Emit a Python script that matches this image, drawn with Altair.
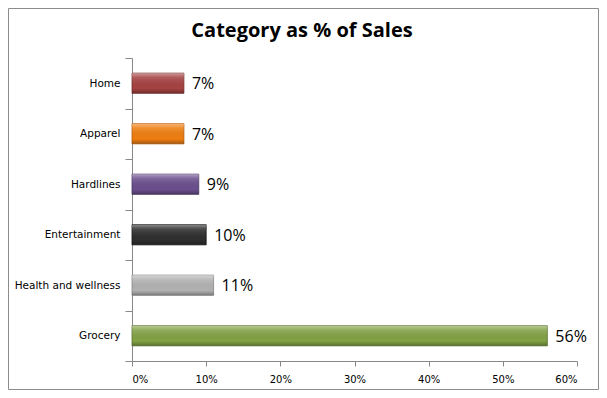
import altair as alt
import pandas as pd

categories = ["Home", "Apparel", "Hardlines", "Entertainment", "Health and wellness", "Grocery"]
shares = [0.07, 0.07, 0.09, 0.10, 0.11, 0.56]
labels = ["7%", "7%", "9%", "10%", "11%", "56%"]
bar_colors = ["#A64242", "#F07E10", "#6B4F8E", "#2F2F2F", "#B2B2B2", "#82A244"]
edge_colors = ["#7A2E2E", "#B85C08", "#4A3666", "#111111", "#858585", "#5C7530"]
x_ticks = [0, 0.1, 0.2, 0.3, 0.4, 0.5, 0.6]
title_text = "Category as % of Sales"

df = pd.DataFrame({"category": categories, "share": shares, "label": labels})

W, H = 445, 303
PAD = {"left": 124, "top": 50, "right": 22, "bottom": 29}

y_enc = alt.Y(
    "category:N",
    sort=categories,
    title=None,
    scale=alt.Scale(paddingInner=0, paddingOuter=0),
    axis=alt.Axis(
        tickBand="extent",
        tickSize=7,
        tickColor="#888888",
        domainColor="#888888",
        labelFont="DejaVu Sans",
        labelFontSize=10.5,
        labelColor="#000000",
        labelPadding=5,
        labelLimit=200,
        grid=False,
    ),
)
x_enc = alt.X(
    "share:Q",
    title=None,
    scale=alt.Scale(domain=[0, 0.6], nice=False),
    axis=alt.Axis(
        values=x_ticks,
        format=".0%",
        tickSize=5,
        tickColor="#888888",
        domainColor="#888888",
        labelFont="DejaVu Sans",
        labelFontSize=10,
        labelColor="#000000",
        labelPadding=8,
        grid=False,
    ),
)

base = alt.Chart(df)
band = alt.RelativeBandSize(0.4)

bars = base.mark_bar(strokeWidth=0.8, height=band).encode(
    y=y_enc,
    x=x_enc,
    color=alt.Color("category:N", sort=categories,
                    scale=alt.Scale(domain=categories, range=bar_colors), legend=None),
    stroke=alt.Stroke("category:N", sort=categories,
                      scale=alt.Scale(domain=categories, range=edge_colors),
                      legend=None),
)

shade = base.mark_bar(
    height=band,
    color={
        "gradient": "linear",
        "x1": 0, "y1": 0, "x2": 0, "y2": 1,
        "stops": [
            {"offset": 0.0, "color": "rgba(255,255,255,0.45)"},
            {"offset": 0.2, "color": "rgba(255,255,255,0.15)"},
            {"offset": 0.75, "color": "rgba(0,0,0,0.0)"},
            {"offset": 1.0, "color": "rgba(0,0,0,0.3)"},
        ],
    },
).encode(y=alt.Y("category:N", sort=categories), x="share:Q")

text = base.mark_text(
    align="left", baseline="middle", dx=8, dy=1,
    font="Open Sans", fontSize=16, color="#000000",
).encode(y=alt.Y("category:N", sort=categories), x="share:Q", text="label:N")

frame = alt.Chart(pd.DataFrame({"k": [0]})).mark_rect(
    fill=None, stroke="#8C8C8C", strokeWidth=1
).encode(
    x=alt.value(-PAD["left"] + 0.5),
    x2=alt.value(W + PAD["right"] - 0.5),
    y=alt.value(-PAD["top"] + 0.5),
    y2=alt.value(H + PAD["bottom"] - 0.5),
)

title = alt.Chart(pd.DataFrame({"t": [title_text]})).mark_text(
    font="Open Sans", fontSize=20, fontWeight="bold", color="#000000",
    align="center", baseline="alphabetic",
).encode(
    x=alt.value(170),
    y=alt.value(-21),
    text="t:N",
)

chart = alt.layer(bars, shade, text, frame, title).properties(
    width=W,
    height=H,
    padding=PAD,
    autosize=alt.AutoSizeParams(type="none"),
    view=alt.ViewBackground(strokeOpacity=0, strokeWidth=0),
).configure_view(stroke=None, strokeOpacity=0).configure(background="white")

chart.save("out.html", embed_options={"renderer": "svg", "actions": False})
